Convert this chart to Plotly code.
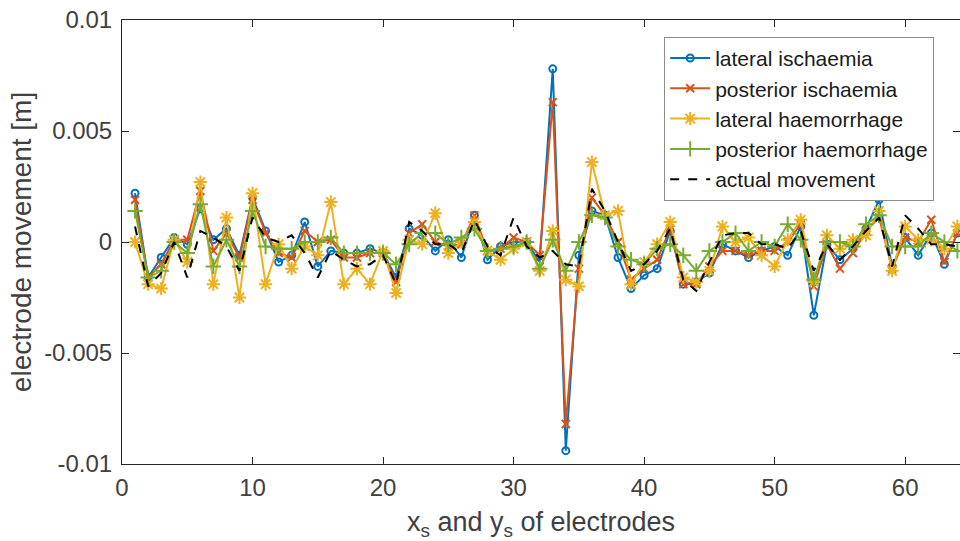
import plotly.graph_objects as go

# electrode index (x and y coordinates interleaved)
electrodes = list(range(1, 65))

lateral_ischaemia = [
    0.0022, -0.0016, -0.0007, 0.0002, -0.0001, 0.0015, 0.0001, 0.0006, -0.0006, 0.0020,
    0.0005, -0.0009, -0.0006, 0.0009, -0.0011, -0.0004, -0.0005, -0.0005, -0.0003, -0.0005,
    -0.0016, 0.0006, 0.0003, -0.0004, 0.0001, -0.0007, 0.0012, -0.0008, -0.0002, 0.0000,
    0.0000, -0.0009, 0.0078, -0.0094, -0.0006, 0.0014, 0.0012, -0.0007, -0.0021, -0.0015,
    -0.0012, 0.0005, -0.0019, -0.0018, -0.0014, -0.0001, -0.0004, -0.0007, -0.0004, -0.0002,
    -0.0006, 0.0007, -0.0033, -0.0001, -0.0008, -0.0003, 0.0006, 0.0019, -0.0011, 0.0002,
    -0.0006, 0.0004, -0.0010, 0.0004,
]
posterior_ischaemia = [
    0.0019, -0.0016, -0.0010, 0.0001, 0.0001, 0.0023, -0.0004, 0.0004, -0.0007, 0.0019,
    0.0004, -0.0005, -0.0007, 0.0005, 0.0000, 0.0001, -0.0007, -0.0007, -0.0005, -0.0005,
    -0.0018, 0.0004, 0.0008, 0.0000, -0.0002, -0.0001, 0.0012, -0.0004, -0.0003, 0.0002,
    0.0000, -0.0006, 0.0063, -0.0082, -0.0012, 0.0020, 0.0012, 0.0000, -0.0017, -0.0012,
    -0.0008, 0.0006, -0.0019, -0.0019, -0.0011, -0.0004, -0.0004, -0.0006, -0.0004, -0.0004,
    0.0000, 0.0008, -0.0020, -0.0001, -0.0012, -0.0005, 0.0005, 0.0011, -0.0012, 0.0002,
    0.0000, 0.0010, -0.0009, 0.0004,
]
lateral_haemorrhage = [
    0.0000, -0.0019, -0.0021, 0.0001, -0.0009, 0.0027, -0.0019, 0.0011, -0.0025, 0.0022,
    -0.0019, -0.0001, -0.0012, -0.0002, -0.0006, 0.0018, -0.0019, -0.0012, -0.0019, -0.0004,
    -0.0023, 0.0001, -0.0001, 0.0013, -0.0005, 0.0000, 0.0009, -0.0004, -0.0008, -0.0003,
    0.0000, -0.0013, 0.0005, -0.0017, -0.0020, 0.0036, 0.0012, 0.0014, -0.0019, -0.0009,
    -0.0001, 0.0009, -0.0016, -0.0018, -0.0013, 0.0007, 0.0000, 0.0002, -0.0006, -0.0011,
    0.0001, 0.0010, -0.0018, 0.0003, -0.0003, 0.0001, 0.0003, 0.0014, -0.0013, 0.0007,
    0.0001, 0.0001, -0.0003, 0.0007,
]
posterior_haemorrhage = [
    0.0014, -0.0016, -0.0013, 0.0000, -0.0005, 0.0017, -0.0011, 0.0001, -0.0011, 0.0014,
    -0.0002, -0.0003, -0.0003, 0.0000, 0.0000, 0.0002, -0.0005, -0.0005, -0.0005, -0.0005,
    -0.0010, -0.0001, 0.0004, 0.0004, -0.0001, 0.0002, 0.0006, -0.0004, -0.0003, -0.0002,
    0.0000, -0.0012, 0.0001, -0.0013, 0.0000, 0.0012, 0.0011, -0.0002, -0.0008, -0.0010,
    -0.0003, -0.0001, -0.0006, -0.0013, -0.0004, 0.0000, 0.0004, -0.0004, 0.0000, -0.0002,
    0.0008, 0.0001, -0.0017, 0.0000, 0.0000, -0.0002, 0.0008, 0.0012, -0.0002, -0.0002,
    -0.0002, 0.0004, 0.0000, -0.0004,
]
actual_movement = [
    0.0007, -0.0020, -0.0014, 0.0000, -0.0016, 0.0005, 0.0002, -0.0002, -0.0013, 0.0011,
    0.0002, 0.0000, 0.0003, -0.0005, -0.0016, -0.0004, -0.0008, -0.0011, -0.0010, -0.0006,
    -0.0019, 0.0009, 0.0005, -0.0001, -0.0001, -0.0005, 0.0010, -0.0002, -0.0006, 0.0011,
    -0.0002, -0.0007, -0.0004, -0.0010, -0.0011, 0.0024, 0.0014, 0.0000, -0.0013, -0.0010,
    -0.0004, 0.0006, -0.0017, -0.0022, -0.0009, 0.0003, 0.0004, 0.0004, -0.0001, -0.0001,
    -0.0003, 0.0005, -0.0013, -0.0001, -0.0008, -0.0002, 0.0005, 0.0011, -0.0011, 0.0012,
    0.0006, -0.0001, -0.0001, -0.0002,
]

x_ticks = [0, 10, 20, 30, 40, 50, 60]
y_ticks = [-0.01, -0.005, 0, 0.005, 0.01]
y_tick_text = ["-0.01", "-0.005", "0", "0.005", "0.01"]

FONT = "Liberation Sans, Arial, sans-serif"
AXIS_COLOR = "#262626"
TEXT_COLOR = "#404040"

series = [
    ("lateral ischaemia", lateral_ischaemia, "#0072BD", "circle-open", 7),
    ("posterior ischaemia", posterior_ischaemia, "#D95319", "x-thin-open", 8),
    ("lateral haemorrhage", lateral_haemorrhage, "#EDB120", "asterisk-open", 11),
    ("posterior haemorrhage", posterior_haemorrhage, "#77AC30", "cross-thin-open", 11),
]

fig = go.Figure()
for name, values, color, symbol, size in series:
    fig.add_trace(go.Scatter(
        x=electrodes, y=values, name=name, mode="lines+markers",
        line=dict(color=color, width=2),
        marker=dict(symbol=symbol, size=size, color=color,
                    line=dict(color=color, width=2)),
    ))

fig.add_trace(go.Scatter(
    x=electrodes, y=actual_movement, name="actual movement", mode="lines",
    line=dict(color="black", width=2, dash="dash"),
))

fig.update_layout(
    width=960, height=541,
    margin=dict(l=122, r=0, t=20, b=77),
    paper_bgcolor="white", plot_bgcolor="white",
    font=dict(family=FONT, color=TEXT_COLOR, size=24),
    showlegend=True,
    legend=dict(
        x=0.647, y=0.962, xanchor="left", yanchor="top",
        bgcolor="white", bordercolor="#8c8c8c", borderwidth=1,
        font=dict(family=FONT, size=21, color="#1a1a1a"),
        tracegroupgap=0, itemwidth=40,
    ),
)

fig.update_xaxes(
    range=[0, 64.2], tickvals=x_ticks, ticks="inside", ticklen=7,
    tickcolor=AXIS_COLOR, showline=True, linecolor=AXIS_COLOR, linewidth=1,
    mirror="ticks", showgrid=False, zeroline=False,
    tickfont=dict(size=24, color=TEXT_COLOR), ticklabelstandoff=2,
    title=dict(text="x<sub>s</sub> and y<sub>s</sub> of electrodes",
               font=dict(size=27, color=TEXT_COLOR), standoff=13),
)
fig.update_yaxes(
    range=[-0.01, 0.01], tickvals=y_ticks, ticktext=y_tick_text,
    ticks="inside", ticklen=7, tickcolor=AXIS_COLOR, showline=True,
    linecolor=AXIS_COLOR, linewidth=1, mirror="ticks", showgrid=False,
    zeroline=False, tickfont=dict(size=24, color=TEXT_COLOR), ticklabelstandoff=4,
    title=dict(text="electrode movement [m]", font=dict(size=28, color=TEXT_COLOR),
               standoff=4),
)

fig.write_html("out.html")
